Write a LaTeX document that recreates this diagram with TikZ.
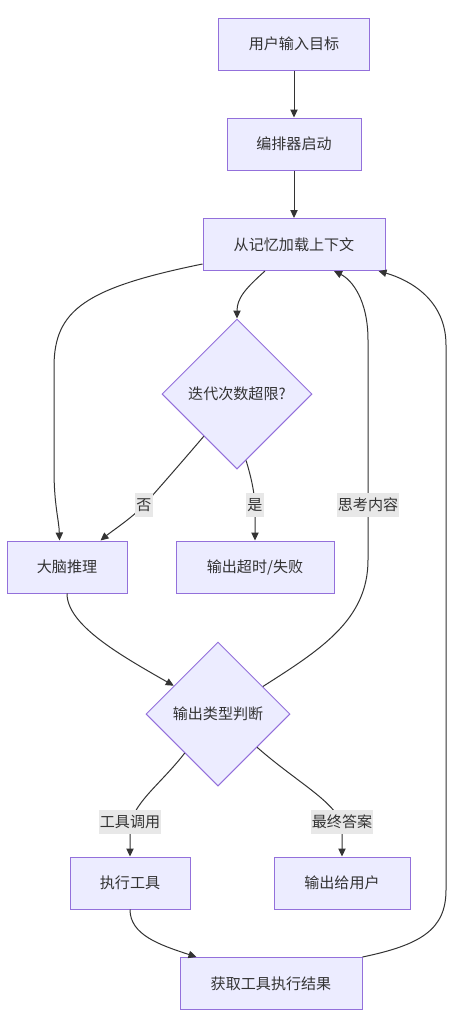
\documentclass[tikz,border=0pt]{standalone}
\usepackage{fontspec}
\setmainfont{Noto Sans CJK SC}
\usetikzlibrary{shapes.geometric,arrows.meta,calc}
\definecolor{nodefill}{HTML}{ECECFF}
\definecolor{nodeline}{HTML}{9370DB}
\definecolor{edgecol}{HTML}{333333}
\definecolor{lblbg}{HTML}{E8E8E8}
\begin{document}
\begin{tikzpicture}[x=0.75pt,y=-0.75pt,
  txt/.style={text=edgecol,font=\fontsize{11.3}{14}\selectfont},
  box/.style={txt,draw=nodeline,fill=nodefill,line width=0.75pt,inner sep=0pt,minimum height=52*0.75pt},
  dia/.style={txt,diamond,draw=nodeline,fill=nodefill,line width=0.75pt,inner sep=0pt,aspect=1},
  edge/.style={draw=edgecol,line width=0.75pt,-{Triangle[length=6pt,width=5.5pt]}},
  lbl/.style={txt,fill=lblbg,inner xsep=1pt,inner ysep=0pt,minimum height=24*0.75pt}]
\useasboundingbox[fill=white] (0,0) rectangle (454,1028);

\node[box,minimum width=151*0.75pt] (input) at (294,44) {用户输入目标};
\node[box,minimum width=134*0.75pt] (orch) at (294,144) {编排器启动};
\node[box,minimum width=182*0.75pt] (mem) at (294,244.5) {从记忆加载上下文};
\node[dia,minimum width=150*0.75pt,minimum height=150*0.75pt] (iter) at (237,394) {迭代次数超限?};
\node[box,minimum width=120*0.75pt] (brain) at (67,567) {大脑推理};
\node[box,minimum width=158*0.75pt] (timeout) at (255,567) {输出超时/失败};
\node[dia,minimum width=144*0.75pt,minimum height=144*0.75pt] (judge) at (218,714) {输出类型判断};
\node[box,minimum width=120*0.75pt] (tool) at (130,883) {执行工具};
\node[box,minimum width=136*0.75pt] (out) at (342,883) {输出给用户};
\node[box,minimum width=182*0.75pt] (result) at (271,983.5) {获取工具执行结果};

\draw[edge] (input) -- (orch);
\draw[edge] (orch) -- (mem);
\draw[edge] ($(mem.south)+(-29,0)$) .. controls (246,288) and (237,298) .. (iter.north);
\draw[edge] ($(mem.south west)+(0,-7)$) .. controls (85,288) and (54,310) .. (54,367) -- (54,470) .. controls (54,505) and (59,520) .. ($(brain.north west)+(53,0)$);
\draw[edge] ($(iter.west)!0.56!(iter.south)$) .. controls (175,470) and (152,496) .. (144,505) .. controls (132,518) and (112,531) .. ($(brain.north east)+(-27,0)$);
\draw[edge] ($(iter.south)!0.12!(iter.east)$) .. controls (252,480) and (255,495) .. (255,510) -- (timeout.north);
\draw[edge] (brain.south) .. controls (67,625) and (120,655) .. ($(judge.west)!0.39!(judge.north)$);
\draw[edge] ($(judge.north)!0.62!(judge.east)$) .. controls (320,650) and (368,620) .. (368,560) -- (368,340) .. controls (368,300) and (352,280) .. ($(mem.south)+(40,0)$);
\draw[edge] ($(judge.west)!0.54!(judge.south)$) .. controls (160,785) and (130,805) .. (130,830) -- (tool.north);
\draw[edge] ($(judge.south)!0.54!(judge.east)$) .. controls (300,785) and (342,805) .. (342,830) -- (out.north);
\draw[edge] (tool.south) .. controls (130,935) and (160,945) .. ($(result.north west)+(17,0)$);
\draw[edge] (result.north east) .. controls (420,945) and (446,930) .. (446,890) -- (446,345) .. controls (446,300) and (410,280) .. ($(mem.south east)+(-7,0)$);

\node[lbl] (lno) at (144,505) {否};
\node[lbl] (lyes) at (255,505) {是};
\node[lbl] (lthink) at (368,505) {思考内容};
\node[lbl] (ltool) at (130,822) {工具调用};
\node[lbl] (lfinal) at (342,822) {最终答案};
\end{tikzpicture}
\end{document}
